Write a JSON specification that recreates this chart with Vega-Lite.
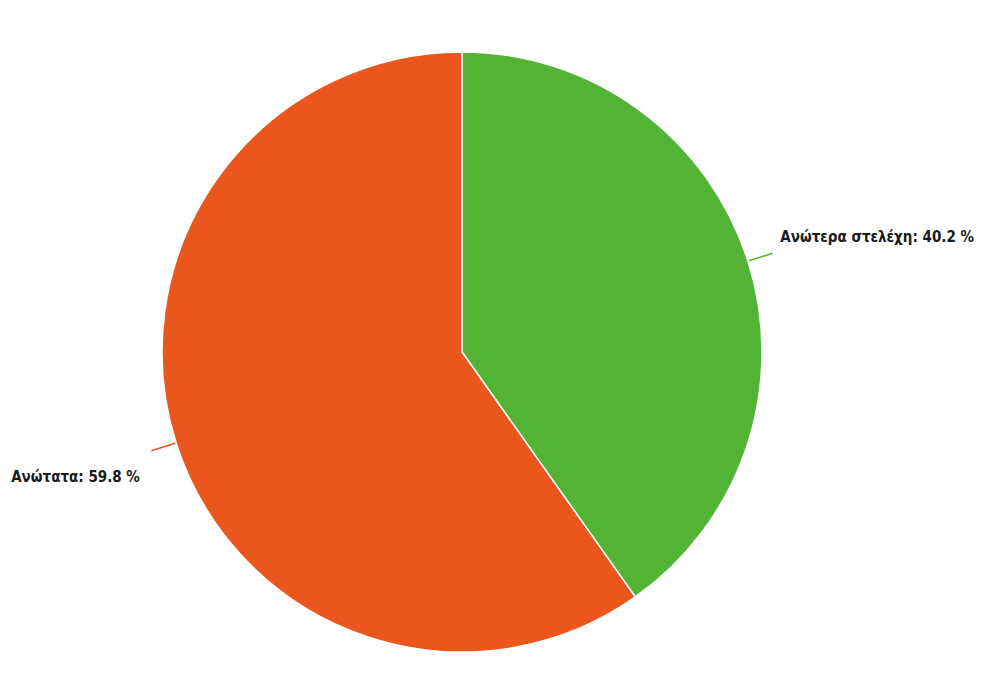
{
  "$schema": "https://vega.github.io/schema/vega-lite/v6.json",
  "width": 924,
  "height": 688,
  "padding": {"left": 0, "top": 8, "right": 60, "bottom": 0},
  "autosize": {"type": "none"},
  "background": "white",
  "view": {"stroke": null},
  "data": {
    "values": [
      {"cat": "Ανώτερα στελέχη", "value": 40.2, "order": 1, "label": "Ανώτερα στελέχη: 40.2 %"},
      {"cat": "Ανώτατα", "value": 59.8, "order": 2, "label": "Ανώτατα: 59.8 %"}
    ]
  },
  "transform": [
    {"stack": "value", "groupby": [], "sort": [{"field": "order"}], "as": ["start", "end"]},
    {"calculate": "(datum.start + datum.end) / 2", "as": "mid"}
  ],
  "encoding": {
    "color": {
      "field": "cat",
      "type": "nominal",
      "scale": {"domain": ["Ανώτερα στελέχη", "Ανώτατα"], "range": ["#52b335", "#eb561d"]},
      "legend": null
    }
  },
  "layer": [
    {"mark": {"type": "arc", "outerRadius": 300, "stroke": "white", "strokeWidth": 1.5},
     "encoding": {
       "theta": {"field": "start", "type": "quantitative", "scale": {"domain": [0, 100]}},
       "theta2": {"field": "end"}
     }},
    {"mark": {"type": "arc", "outerRadius": 326, "innerRadius": 301, "fillOpacity": 0, "strokeWidth": 1.5},
     "encoding": {
       "theta": {"field": "mid", "type": "quantitative", "scale": {"domain": [0, 100]}},
       "theta2": {"field": "mid"},
       "stroke": {"field": "cat", "type": "nominal", "scale": {"domain": ["Ανώτερα στελέχη", "Ανώτατα"], "range": ["#52b335", "#eb561d"]}, "legend": null}
     }},
    {"transform": [{"filter": "datum.order == 1"}],
     "mark": {"type": "text", "radius": 334, "align": "left", "baseline": "middle", "dy": -14, "font": "DejaVu Sans Condensed", "fontWeight": "bold", "fontSize": 15},
     "encoding": {
       "theta": {"field": "mid", "type": "quantitative", "scale": {"domain": [0, 100]}},
       "text": {"field": "label"}, "color": {"value": "#1a1a1a"}}},
    {"transform": [{"filter": "datum.order == 2"}],
     "mark": {"type": "text", "radius": 338, "align": "right", "baseline": "middle", "dy": 23, "font": "DejaVu Sans Condensed", "fontWeight": "bold", "fontSize": 15},
     "encoding": {
       "theta": {"field": "mid", "type": "quantitative", "scale": {"domain": [0, 100]}},
       "text": {"field": "label"}, "color": {"value": "#1a1a1a"}}}
  ]
}
